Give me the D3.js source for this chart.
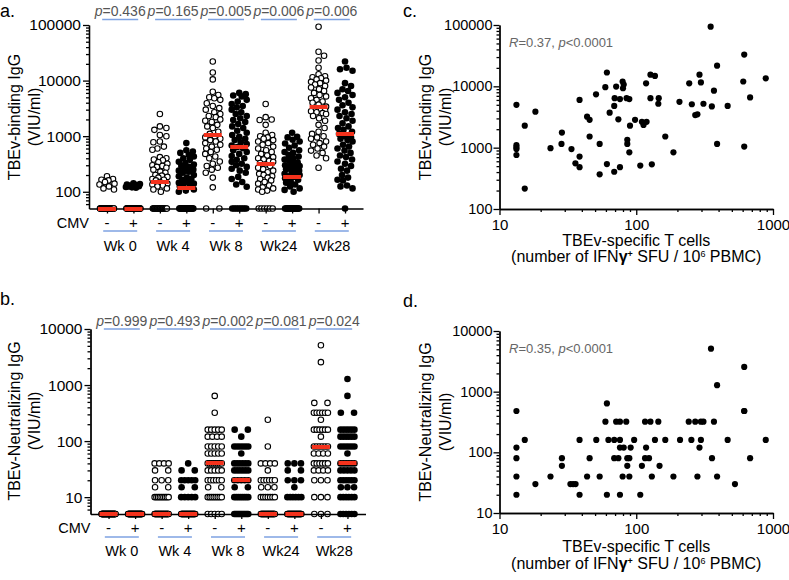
<!DOCTYPE html>
<html><head><meta charset="utf-8">
<script src="https://cdn.jsdelivr.net/npm/d3@7"></script>
<style>body{margin:0;background:#fff}svg{display:block}</style>
</head><body><svg id="chart" width="789" height="580"></svg>
<script>
// ---------------- DATA ----------------
const weeks = ["Wk 0", "Wk 4", "Wk 8", "Wk24", "Wk28"];
const cmvLabels = ["-", "+"];
const pBinding = ["0.436", "0.165", "0.005", "0.006", "0.006"];
const pNeutral = ["0.999", "0.493", "0.002", "0.081", "0.024"];
const bindTicks = [100, 1000, 10000, 100000];
const neutTicks = [10, 100, 1000, 10000];
const bindLOD = 50;
const neutLOD = 5;

// Panel a: TBEv-binding IgG values above LOD (VIU/ml)
const bindWk0Neg = [190, 170, 165, 160, 150, 140, 135, 125, 115, 110];
const bindWk0Pos = [142, 138, 135, 132, 130, 128, 126, 124, 122, 120, 118];
const bindWk4Neg = [2500, 1500, 1400, 1300, 1050, 1000, 800, 780, 650, 600, 570, 420, 400, 380, 370, 340, 320, 300, 290, 280, 270, 250, 230, 220, 200, 195, 185, 180, 170, 165, 160, 150, 140, 135, 130, 125, 115, 110, 100];
const bindWk4Pos = [750, 560, 530, 500, 460, 430, 400, 375, 345, 330, 310, 290, 280, 260, 250, 240, 230, 220, 200, 190, 180, 170, 165, 150, 145, 140, 135, 130, 125, 110, 105, 100];
const bindWk8Neg = [22000, 14000, 10500, 6300, 5500, 5000, 4800, 4500, 3900, 3500, 3200, 3000, 2700, 2500, 2300, 2200, 2000, 1900, 1800, 1600, 1500, 1400, 1200, 1100, 1000, 950, 900, 850, 800, 750, 700, 650, 600, 570, 520, 480, 430, 400, 350, 320, 290, 270, 250, 220, 180, 120];
const bindWk8Pos = [6000, 5700, 5400, 5200, 4500, 4200, 3800, 3500, 3300, 3000, 2700, 2500, 2300, 2100, 1950, 1800, 1650, 1500, 1400, 1250, 1150, 1050, 970, 900, 850, 780, 720, 680, 640, 610, 560, 520, 480, 440, 400, 375, 345, 320, 300, 280, 260, 240, 220, 185, 170, 150, 135, 123];
const bindWk24Neg = [3800, 2200, 2000, 1950, 1600, 1150, 1050, 1000, 950, 900, 850, 800, 750, 700, 650, 600, 560, 520, 480, 450, 420, 400, 380, 360, 345, 330, 310, 290, 270, 255, 240, 225, 210, 200, 190, 180, 170, 160, 150, 140, 130, 120, 115, 110, 105, 100];
const bindWk24Pos = [1150, 970, 950, 860, 800, 740, 680, 620, 560, 520, 500, 460, 430, 400, 380, 360, 340, 320, 300, 290, 280, 270, 255, 240, 230, 220, 210, 200, 190, 185, 175, 165, 155, 145, 135, 125, 115, 108, 100];
const bindWk28Neg = [93000, 33000, 28000, 23000, 17000, 13000, 12000, 11500, 11000, 10500, 10000, 9500, 9000, 8500, 8000, 7500, 7000, 6500, 6000, 5500, 5200, 4800, 4500, 4200, 4000, 3700, 3400, 3200, 3000, 2900, 2800, 2700, 2600, 2500, 2300, 2100, 1900, 1600, 1400, 1200, 1100, 1000, 950, 900, 800, 750, 700, 650, 600, 550, 500, 450, 400, 270];
const bindWk28Pos = [22000, 17000, 16000, 15000, 9000, 8000, 7000, 6500, 6000, 5500, 5000, 4500, 4000, 3600, 3300, 3000, 2700, 2500, 2300, 2100, 1900, 1700, 1500, 1400, 1300, 1200, 1100, 1000, 950, 900, 850, 800, 700, 650, 600, 550, 500, 450, 420, 380, 350, 320, 290, 260, 240, 200, 180, 165, 160, 130, 125, 115];
// number of participants below detection limit, per column (Wk0-, Wk0+, Wk4-, ...)
const bindLodCounts = [40, 45, 24, 26, 2, 9, 6, 19, 0, 1];

// Panel b: neutralizing titres, counts per titre level
const neutLevels = [5, 10, 15, 20, 30, 40, 60, 80, 120, 160, 240, 320, 480, 640, 1280, 2560, 5120];
const neutWk0Neg  = [55, 0, 0, 0, 0, 0, 0, 0, 0, 0, 0, 0, 0, 0, 0, 0, 0];
const neutWk0Pos  = [50, 0, 0, 0, 0, 0, 0, 0, 0, 0, 0, 0, 0, 0, 0, 0, 0];
const neutWk4Neg  = [34, 9, 2, 3, 2, 4, 0, 0, 0, 0, 0, 0, 0, 0, 0, 0, 0];
const neutWk4Pos  = [35, 5, 2, 5, 2, 1, 0, 0, 0, 0, 0, 0, 0, 0, 0, 0, 0];
const neutWk8Neg  = [5, 8, 2, 6, 5, 8, 5, 5, 4, 5, 0, 1, 0, 1, 0, 0, 0];
const neutWk8Pos  = [12, 8, 2, 5, 6, 6, 1, 6, 1, 2, 0, 0, 0, 0, 0, 0, 0];
const neutWk24Neg = [32, 7, 3, 6, 1, 4, 0, 1, 0, 0, 1, 0, 0, 0, 0, 0, 0];
const neutWk24Pos = [35, 6, 1, 3, 2, 3, 0, 0, 0, 0, 0, 0, 0, 0, 0, 0, 0];
const neutWk28Neg = [3, 3, 0, 3, 4, 6, 4, 6, 1, 6, 1, 6, 2, 0, 0, 1, 1];
const neutWk28Pos = [6, 6, 3, 6, 5, 6, 1, 6, 6, 6, 0, 2, 0, 1, 1, 0, 0];

// Panel c: T cells (SFU/10^6 PBMC) vs binding IgG
const tcellC = [13.3, 15.3, 18.3, 13.3, 13.3, 13.3, 13.3, 23.6, 28.6, 28.4, 33.6, 38.5, 43.7, 45.6, 45.6, 50.8, 54, 59.4, 61, 63.9, 69, 69.5, 71.3, 76, 74, 79.5, 81, 80, 85, 89, 90, 86, 86, 98, 110, 113, 119, 118, 127, 137, 127, 145, 146, 163, 207, 244, 255, 270, 280, 290, 297, 310, 350, 357, 370, 390, 390, 466, 616, 606, 616, 680, 885, 15.3, 35.9, 38.5, 38.5, 54, 61, 69, 76, 89, 107, 130, 187];
const bindC  = [4990, 2280, 3860, 1100, 1010, 950, 760, 980, 1760, 1150, 950, 6000, 3200, 2840, 1520, 7400, 1150, 9700, 16800, 3720, 4800, 6400, 9900, 6200, 2900, 12000, 10700, 9300, 6400, 6200, 2280, 1340, 1150, 2840, 2640, 2340, 2640, 11200, 15500, 14800, 6400, 5200, 6400, 1520, 5600, 11200, 5100, 3400, 3500, 15500, 11600, 5200, 94000, 4700, 8500, 21700, 1150, 4800, 33000, 12000, 1040, 6600, 13500, 215, 555, 715, 480, 368, 540, 405, 480, 840, 510, 535, 840];

// Panel d: T cells vs neutralizing IgG
const tcellD = [13.3, 616, 352, 616, 390, 61, 59.5, 71.3, 76, 84.5, 116, 127, 145, 242, 270, 297, 310, 370, 616, 15.3, 38.5, 51, 62.6, 69, 76, 96.5, 137, 163, 209, 253, 297, 466, 885, 13.3, 76, 81, 91, 118, 290, 13.3, 28.6, 45.6, 69, 74, 86, 89, 116, 124, 358, 680, 28.6, 86, 110, 148, 13.3, 23.6, 43.7, 54, 79.5, 89, 130, 187, 280, 390, 18.3, 33, 34.5, 36, 527, 13.3, 38.5, 61, 76, 107];
const neutD  = [480, 480, 5120, 2560, 1280, 640, 320, 320, 320, 320, 320, 320, 320, 320, 320, 320, 320, 320, 480, 160, 160, 160, 160, 160, 160, 160, 160, 160, 160, 160, 160, 160, 160, 120, 120, 120, 120, 120, 120, 80, 80, 80, 80, 80, 80, 80, 80, 80, 80, 80, 60, 60, 60, 60, 40, 40, 40, 40, 40, 40, 40, 40, 40, 40, 30, 30, 30, 30, 30, 20, 20, 20, 20, 20];

const tcellTicks = [10, 100, 1000];

// ---------------- DRAWING ----------------
const FONT = '"Liberation Sans", Arial, Helvetica, sans-serif';
const RED = "#f4321c";
const BLUE = "#7ea2e2";
const svg = d3.select("#chart").attr("font-family", FONT);
const medianLayer = [];

function minorTicks(lo, hi) {
  const t = [];
  for (let e = Math.floor(Math.log10(lo)); Math.pow(10, e) <= hi; e++) {
    for (let m = 2; m < 10; m++) { const v = m * Math.pow(10, e); if (v > lo && v < hi) t.push(v); }
  }
  return t;
}

function drawYAxis(scale, x, majors, fs, pad) {
  const [lo, hi] = scale.domain();
  const g = svg.append("g").attr("transform", `translate(${x},0)`);
  g.append("g").call(d3.axisLeft(scale).tickValues(minorTicks(lo, hi)).tickSize(3).tickFormat("").tickSizeOuter(0));
  g.append("g").call(d3.axisLeft(scale).tickValues(majors).tickSize(6).tickPadding(pad).tickFormat(d3.format("d")).tickSizeOuter(0));
  g.selectAll("text").attr("font-size", fs).attr("font-family", FONT);
  g.selectAll("line,path").attr("stroke-width", 1.3);
}
function drawXLogAxis(scale, y, majors, fs) {
  const [lo, hi] = scale.domain();
  const g = svg.append("g").attr("transform", `translate(0,${y})`);
  g.append("g").call(d3.axisBottom(scale).tickValues(minorTicks(lo, hi)).tickSize(3).tickFormat("").tickSizeOuter(0));
  g.append("g").call(d3.axisBottom(scale).tickValues(majors).tickSize(6).tickPadding(4).tickFormat(d3.format("d")).tickSizeOuter(0));
  g.selectAll("text").attr("font-size", fs).attr("font-family", FONT);
  g.selectAll("line,path").attr("stroke-width", 1.3);
}

function rowOffsets(k, d, W) {
  if (k === 1) return [0];
  if (k === 2) return [-d, d];
  const s = Math.min(d, 2 * W / (k - 1));
  return d3.range(k).map(i => (i - (k - 1) / 2) * s);
}
function swarm(vals, yScale, r, W) {
  const pts = vals.map(v => ({ v, y: yScale(v) })).sort((a, b) => a.y - b.y);
  const d = 2 * r, placed = [], cands = [];
  for (let o = 0; o <= W + 1e-9; o += 0.5) { cands.push(o); if (o > 0) cands.push(-o); }
  for (const p of pts) {
    let best = 0, bestScore = -Infinity;
    for (const c of cands) {
      let minD = Infinity;
      for (const q of placed) {
        const dy = q.y - p.y; if (Math.abs(dy) >= d) continue;
        minD = Math.min(minD, Math.hypot(q.dx - c, dy));
      }
      if (minD >= d * 0.97) { best = c; break; }
      if (minD > bestScore) { bestScore = minD; best = c; }
    }
    p.dx = best; placed.push(p);
  }
  return pts;
}

function dot(sel, open, r) {
  return sel.attr("r", open ? r - 0.55 : r)
    .attr("fill", open ? "#fff" : "#000")
    .attr("stroke", "#000").attr("stroke-width", open ? 1.1 : 0);
}

function colPanel(cfg) {
  const { x, y, axisY, cols, pvals, pY, pLineY, cmvY, blueY, wkY, title, titleCY, labelTxt, labelY, ticks } = cfg;
  const R = 3.3;
  cols.forEach((col, i) => {
    const open = i % 2 === 0;
    const g = svg.append("g");
    const cx = x(i);
    col.rows.forEach(rw => {
      rowOffsets(rw.k, 6.6, 7).forEach(o => {
        dot(g.append("circle").attr("cx", cx + o).attr("cy", y(rw.v)), open, R);
      });
    });
    swarm(col.cont, y, R, 7.5).forEach(p => {
      dot(g.append("circle").attr("cx", cx + p.dx).attr("cy", p.y), open, R);
    });
    medianLayer.push({ cx, cy: y(d3.median(col.all)) });
  });
  drawYAxis(y, x.range()[0], ticks, 15.5, 2);
  const gx = svg.append("g").attr("transform", `translate(0,${axisY})`)
    .call(d3.axisBottom(x).tickSize(5).tickFormat("").tickSizeOuter(0));
  gx.selectAll("line,path").attr("stroke-width", 1.3);
  svg.append("text").attr("x", x.range()[0]).attr("y", cmvY).attr("text-anchor", "end").attr("font-size", 14.5).text("CMV");
  cols.forEach((c, i) => {
    svg.append("text").attr("x", x(i)).attr("y", cmvY).attr("text-anchor", "middle").attr("font-size", 15).text(cmvLabels[i % 2]);
  });
  weeks.forEach((w, k) => {
    const cx = (x(2 * k) + x(2 * k + 1)) / 2;
    svg.append("line").attr("x1", cx - 17).attr("x2", cx + 17).attr("y1", blueY).attr("y2", blueY).attr("stroke", BLUE).attr("stroke-width", 1.6);
    svg.append("line").attr("x1", cx - 18).attr("x2", cx + 18).attr("y1", pLineY).attr("y2", pLineY).attr("stroke", BLUE).attr("stroke-width", 1.6);
    svg.append("text").attr("x", cx).attr("y", wkY).attr("text-anchor", "middle").attr("font-size", 14.5).text(w);
    const t = svg.append("text").attr("x", cx).attr("y", pY).attr("text-anchor", "middle").attr("font-size", 14).attr("fill", "#555");
    t.append("tspan").attr("font-style", "italic").text("p");
    t.append("tspan").text("=" + pvals[k]);
  });
  title.forEach(tt => {
    svg.append("text").attr("transform", `translate(${tt.x},${titleCY}) rotate(-90)`).attr("text-anchor", "middle").attr("font-size", 16).text(tt.t);
  });
  svg.append("text").attr("x", 0).attr("y", labelY).attr("font-size", 18).text(labelTxt);
}

// ---- Panel a ----
const bindCols = [bindWk0Neg, bindWk0Pos, bindWk4Neg, bindWk4Pos, bindWk8Neg, bindWk8Pos, bindWk24Neg, bindWk24Pos, bindWk28Neg, bindWk28Pos]
  .map((vals, i) => ({
    cont: vals,
    rows: bindLodCounts[i] > 0 ? [{ v: bindLOD, k: bindLodCounts[i] }] : [],
    all: vals.concat(d3.range(bindLodCounts[i]).map(() => bindLOD))
  }));
const xa = d3.scalePoint().domain(d3.range(10)).range([89, 363]).padding(0.68);
const ya = d3.scaleLog().domain([bindLOD, 100000]).range([208.5, 25]);
colPanel({
  x: xa, y: ya, axisY: 208.5, cols: bindCols, pvals: pBinding, pY: 15.5, pLineY: 19.5,
  cmvY: 227.5, blueY: 231, wkY: 251, titleCY: 117, labelTxt: "a.", labelY: 16.5, ticks: bindTicks,
  title: [{ t: "TBEv-binding IgG", x: 20 }, { t: "(VIU/ml)", x: 40 }]
});

// ---- Panel b ----
const neutCols = [neutWk0Neg, neutWk0Pos, neutWk4Neg, neutWk4Pos, neutWk8Neg, neutWk8Pos, neutWk24Neg, neutWk24Pos, neutWk28Neg, neutWk28Pos]
  .map(counts => {
    const rows = [], all = [];
    counts.forEach((k, j) => { if (k > 0) { rows.push({ v: neutLevels[j], k }); d3.range(k).forEach(() => all.push(neutLevels[j])); } });
    return { cont: [], rows, all };
  });
const xb = d3.scalePoint().domain(d3.range(10)).range([90.5, 365.5]).padding(0.68);
const yb = d3.scaleLog().domain([neutLOD, 10000]).range([514, 329]);
colPanel({
  x: xb, y: yb, axisY: 514, cols: neutCols, pvals: pNeutral, pY: 325.5, pLineY: 329,
  cmvY: 532.5, blueY: 537, wkY: 556, titleCY: 421, labelTxt: "b.", labelY: 305, ticks: neutTicks,
  title: [{ t: "TBEv-Neutralizing IgG", x: 20 }, { t: "(VIU/ml)", x: 40 }]
});

// median bars on top of all points
medianLayer.forEach(m => {
  const cy = Math.round(m.cy);
  svg.append("line").attr("x1", m.cx - 9).attr("x2", m.cx + 9).attr("y1", cy).attr("y2", cy)
    .attr("stroke", RED).attr("stroke-width", 4);
});

// ---- Panels c & d ----
function scatterPanel(cfg) {
  const { xs, ys, xv, yv, yTicks, label, labelY, rText, rY, titleCY, xTitleY, yTitle } = cfg;
  const g = svg.append("g");
  xv.forEach((v, i) => {
    g.append("circle").attr("cx", xs(v)).attr("cy", ys(yv[i])).attr("r", 3.1).attr("fill", "#000");
  });
  drawYAxis(ys, xs.range()[0], yTicks, 14.5, 1);
  drawXLogAxis(xs, ys.range()[0], tcellTicks, 15);
  const t = svg.append("text").attr("x", 509).attr("y", rY).attr("font-size", 13).attr("fill", "#666");
  t.append("tspan").attr("font-style", "italic").text("R");
  t.append("tspan").text("=" + rText + ", ");
  t.append("tspan").attr("font-style", "italic").text("p");
  t.append("tspan").text("<0.0001");
  svg.append("text").attr("x", 403).attr("y", labelY).attr("font-size", 18).text(label);
  svg.append("text").attr("transform", `translate(431,${titleCY}) rotate(-90)`).attr("text-anchor", "middle").attr("font-size", 16).text(yTitle);
  svg.append("text").attr("transform", `translate(451,${titleCY}) rotate(-90)`).attr("text-anchor", "middle").attr("font-size", 16).text("(VIU/ml)");
  const cx = (xs.range()[0] + xs.range()[1]) / 2;
  svg.append("text").attr("x", cx).attr("y", xTitleY).attr("text-anchor", "middle").attr("font-size", 16).text("TBEv-specific T cells");
  const t2 = svg.append("text").attr("x", cx).attr("y", xTitleY + 16.5).attr("text-anchor", "middle").attr("font-size", 16);
  t2.append("tspan").text("(number of IFN");
  t2.append("tspan").attr("font-weight", "bold").text("γ");
  t2.append("tspan").attr("font-size", 9).attr("font-weight", "bold").attr("dy", -5).text("+");
  t2.append("tspan").attr("dy", 5).text(" SFU / 10");
  t2.append("tspan").attr("font-size", 9).attr("dy", -5).text("6");
  t2.append("tspan").attr("dy", 5).text(" PBMC)");
}
const xc = d3.scaleLog().domain([10, 1000]).range([499.5, 773]);
scatterPanel({
  xs: xc, ys: d3.scaleLog().domain([100, 100000]).range([209, 25]), xv: tcellC, yv: bindC, yTicks: bindTicks,
  label: "c.", labelY: 16.5, rText: "0.37", rY: 47, titleCY: 117, xTitleY: 245.5, yTitle: "TBEv-binding IgG"
});
scatterPanel({
  xs: xc, ys: d3.scaleLog().domain([10, 10000]).range([513, 331]), xv: tcellD, yv: neutD, yTicks: neutTicks,
  label: "d.", labelY: 307, rText: "0.35", rY: 353, titleCY: 422, xTitleY: 552, yTitle: "TBEv-Neutralizing IgG"
});
</script></body></html>
